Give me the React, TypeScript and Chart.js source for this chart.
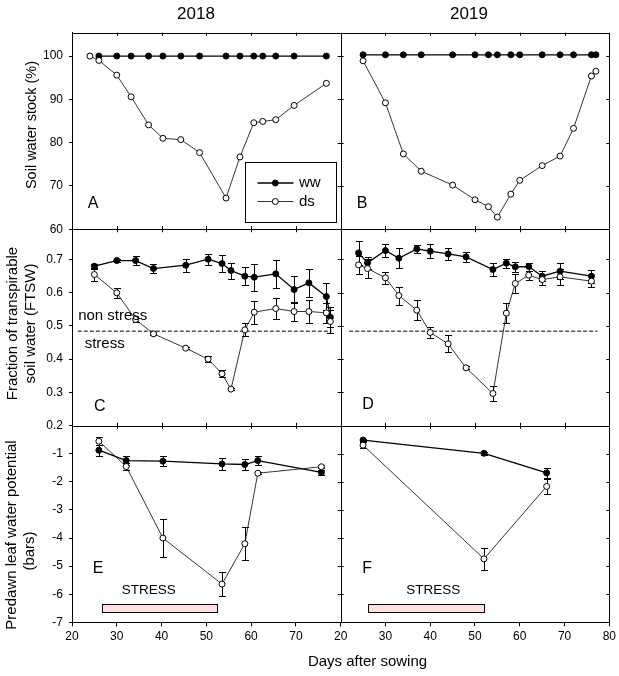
import { useEffect, useRef } from "react";
import { Chart, registerables } from "chart.js";

Chart.register(...registerables);

// ---------------- Data ----------------
// Axis ranges / tick steps
const DAY_RANGE = [20, 80];
const DAY_STEP = 10;
const STOCK_RANGE = [60, 105.4];
const STOCK_STEP = 10;
const FTSW_RANGE = [0.2, 0.79];
const FTSW_STEP = 0.1;
const PLWP_RANGE = [-7, 0];
const PLWP_STEP = 1;

// Panel A (2018) – soil water stock (%)
const A_WW_DAYS = [26, 30, 33.2, 37.1, 40.3, 44.3, 48.5, 54.4, 57.5, 60.6, 62.6, 65.5, 69.6, 76.8];
const A_WW_VALUES = [100, 100, 100, 100, 100, 100, 100, 100, 100, 100, 100, 100, 100, 100];
const A_DS_DAYS = [24, 26, 30, 33.2, 37.1, 40.3, 44.3, 48.5, 54.4, 57.5, 60.6, 62.6, 65.5, 69.6, 76.8];
const A_DS_VALUES = [100, 99, 95.6, 90.6, 84.1, 81.0, 80.7, 77.7, 67.2, 76.7, 84.6, 84.9, 85.3, 88.6, 93.7];

// Panel B (2019) – soil water stock (%)
const B_DAYS = [25, 30, 34, 38, 45, 50, 53, 55, 58, 60, 65, 69, 72, 76, 77];
const B_WW_VALUES = [100.3, 100.3, 100.3, 100.3, 100.3, 100.3, 100.3, 100.3, 100.3, 100.3, 100.3, 100.3, 100.3, 100.3, 100.3];
const B_DS_VALUES = [98.9, 89.2, 77.4, 73.4, 70.2, 66.8, 65.2, 62.8, 68.1, 71.3, 74.7, 76.9, 83.3, 95.4, 96.5];

// Panel C (2018) – FTSW
const C_DAYS = [25, 30, 34.2, 38.2, 45.4, 50.4, 53.5, 55.5, 58.6, 60.7, 65.5, 69.6, 72.9, 76.8, 77.7];
const C_WW_VALUES = [0.679, 0.696, 0.696, 0.672, 0.682, 0.7, 0.687, 0.666, 0.649, 0.646, 0.656, 0.609, 0.629, 0.588, 0.526];
const C_WW_ERR = [0.008, 0.005, 0.0125, 0.0135, 0.02, 0.017, 0.025, 0.024, 0.027, 0.04, 0.043, 0.04, 0.041, 0.04, 0.03];
const C_DS_VALUES = [0.654, 0.599, 0.519, 0.476, 0.433, 0.4, 0.356, 0.31, 0.488, 0.541, 0.552, 0.543, 0.543, 0.539, 0.513];
const C_DS_ERR = [0.019, 0.016, 0.006, 0.004, 0.004, 0.008, 0.01, 0.004, 0.02, 0.034, 0.031, 0.028, 0.034, 0.031, 0.035];

// Panel D (2019) – FTSW
const D_DAYS = [24, 26, 30, 33, 37, 40, 44, 48, 54, 57, 59, 62, 65, 69, 76];
const D_WW_VALUES = [0.719, 0.689, 0.726, 0.703, 0.731, 0.724, 0.716, 0.707, 0.669, 0.688, 0.677, 0.678, 0.649, 0.664, 0.649];
const D_WW_ERR = [0.036, 0.019, 0.019, 0.03, 0.012, 0.021, 0.017, 0.016, 0.019, 0.014, 0.015, 0.012, 0.015, 0.024, 0.02];
const D_DS_VALUES = [0.683, 0.672, 0.644, 0.591, 0.547, 0.48, 0.446, 0.374, 0.297, 0.538, 0.627, 0.652, 0.639, 0.647, 0.634];
const D_DS_ERR = [0.027, 0.028, 0.019, 0.027, 0.03, 0.018, 0.026, 0.005, 0.023, 0.03, 0.028, 0.013, 0.015, 0.025, 0.018];

// Panel E (2018) – predawn leaf water potential (bars)
const E_DAYS = [26, 32.1, 40.3, 53.5, 58.6, 61.5, 75.7];
const E_WW_VALUES = [-0.87, -1.24, -1.26, -1.36, -1.38, -1.24, -1.66];
const E_WW_ERR = [0.2, 0.15, 0.17, 0.21, 0.2, 0.15, 0.09];
const E_DS_VALUES = [-0.55, -1.45, -4.0, -5.64, -4.2, -1.69, -1.46];
const E_DS_ERR = [0.14, 0.11, 0.68, 0.42, 0.58, 0.04, 0.05];

// Panel F (2019) – predawn leaf water potential (bars)
const F_DAYS = [25, 52, 66];
const F_WW_VALUES = [-0.51, -0.98, -1.68];
const F_WW_ERR = [0.05, 0.05, 0.18];
const F_DS_VALUES = [-0.69, -4.74, -2.16];
const F_DS_ERR = [0.1, 0.39, 0.27];

// FTSW stress threshold (dashed line)
const FTSW_THRESHOLD = 0.484;
const THRESHOLD_DAYS_2018 = [21.3, 78];
const THRESHOLD_DAYS_2019 = [21.9, 77.3];

// Stress period bars (days) and their vertical extent (bars)
const STRESS_DAYS_2018 = [26.6, 52.4];
const STRESS_DAYS_2019 = [26.0, 52.0];
const STRESS_BAR_LEVELS = [-6.36, -6.64];

// Labels
const SERIES_LABELS = ["ww", "ds"];
const YEAR_LABELS = ["2018", "2019"];
const PANEL_LETTERS = ["A", "B", "C", "D", "E", "F"];

// ---------------- Styling helpers ----------------
const FONT = "'Liberation Sans', Arial, Helvetica, sans-serif";
const R = 3;

const pts = (xs: number[], ys: number[]) => xs.map((x, i) => ({ x, y: ys[i] }));

const wwStyle = {
  borderColor: "#000",
  backgroundColor: "#000",
  borderWidth: 1.3,
  pointRadius: R,
  pointHoverRadius: R,
  pointBackgroundColor: "#000",
  pointBorderColor: "#000",
  pointBorderWidth: 1,
  order: 2,
};
const dsStyle = {
  borderColor: "#000",
  backgroundColor: "#fff",
  borderWidth: 0.8,
  pointRadius: R,
  pointHoverRadius: R,
  pointBackgroundColor: "#fff",
  pointBorderColor: "#000",
  pointBorderWidth: 1,
  order: 1,
};

function series(label: string, xs: number[], ys: number[], err: number[] | null, xAxisID: string, yAxisID: string, style: any) {
  return { label, data: pts(xs, ys), err, xAxisID, yAxisID, tension: 0, fill: false, ...style };
}

function threshold(xs: number[], xAxisID: string) {
  return {
    label: "threshold",
    data: pts(xs, [FTSW_THRESHOLD, FTSW_THRESHOLD]),
    xAxisID,
    yAxisID: "y2",
    borderColor: "#000",
    borderWidth: 1,
    borderDash: [4, 2],
    pointRadius: 0,
    pointHoverRadius: 0,
    fill: false,
    order: 3,
  };
}

function axis(extra: any) {
  const base: any = {
    type: "linear",
    grid: { drawOnChartArea: false, drawTicks: true, tickLength: 3, color: "#000", lineWidth: 1 },
    border: { display: true, color: "#000", width: 1 },
    ticks: { color: "#000", font: { family: FONT, size: 12 }, autoSkip: false, includeBounds: false, maxRotation: 0 },
  };
  return {
    ...base,
    ...extra,
    grid: { ...base.grid, ...(extra.grid || {}) },
    ticks: { ...base.ticks, ...(extra.ticks || {}) },
  };
}

// ---------------- Plugins ----------------
const framePlugin = {
  id: "frame",
  afterDraw(chart: any) {
    const { ctx, chartArea: a, scales } = chart;
    const p = (v: number) => Math.round(v) + 0.5;
    ctx.save();
    ctx.strokeStyle = "#000";
    ctx.lineWidth = 1;
    ctx.beginPath();
    ctx.moveTo(a.left, p(a.top));
    ctx.lineTo(a.right + 0.5, p(a.top));
    ctx.moveTo(p(a.right), a.top);
    ctx.lineTo(p(a.right), a.bottom);
    const xd = scales.x2.left;
    ctx.moveTo(p(xd), a.top);
    ctx.lineTo(p(xd), a.bottom);
    for (const id of ["y1", "y2"]) {
      const yb = scales[id].bottom;
      ctx.moveTo(a.left, p(yb));
      ctx.lineTo(a.right, p(yb));
    }
    // small inner ticks
    for (const id of ["y1", "y2", "y3"]) {
      const s = scales[id];
      for (const t of s.ticks) {
        const y = p(s.getPixelForValue(t.value));
        ctx.moveTo(a.right, y);
        ctx.lineTo(a.right - 3, y);
        ctx.moveTo(xd - 3, y);
        ctx.lineTo(xd + 3, y);
      }
    }
    for (const id of ["x1", "x2"]) {
      const s = scales[id];
      for (const t of s.ticks) {
        if (t.value <= DAY_RANGE[0] || t.value >= DAY_RANGE[1]) continue;
        const x = p(s.getPixelForValue(t.value));
        ctx.moveTo(x, a.top);
        ctx.lineTo(x, a.top + 3);
        for (const yid of ["y1", "y2"]) {
          const yb = scales[yid].bottom;
          ctx.moveTo(x, yb - 3);
          ctx.lineTo(x, yb + 3);
        }
      }
    }
    ctx.stroke();
    ctx.restore();
  },
};

const errorBarPlugin = {
  id: "errorBars",
  beforeDatasetsDraw(chart: any) {
    const ctx = chart.ctx;
    ctx.save();
    ctx.strokeStyle = "#000";
    ctx.lineWidth = 1;
    chart.data.datasets.forEach((ds: any, i: number) => {
      if (!ds.err) return;
      const meta = chart.getDatasetMeta(i);
      const ys = chart.scales[ds.yAxisID];
      meta.data.forEach((el: any, j: number) => {
        const e = ds.err[j];
        if (!e) return;
        const v = ds.data[j].y;
        const x = Math.round(el.x) + 0.5;
        const t = Math.round(ys.getPixelForValue(v + e)) + 0.5;
        const b = Math.round(ys.getPixelForValue(v - e)) + 0.5;
        ctx.beginPath();
        ctx.moveTo(x, t);
        ctx.lineTo(x, b);
        ctx.moveTo(x - 3.5, t);
        ctx.lineTo(x + 3.5, t);
        ctx.moveTo(x - 3.5, b);
        ctx.lineTo(x + 3.5, b);
        ctx.stroke();
      });
    });
    ctx.restore();
  },
};

function text(ctx: any, s: string, x: number, y: number, size: number, rotate = false) {
  ctx.save();
  ctx.font = `${size}px ${FONT}`;
  ctx.fillStyle = "#000";
  ctx.textAlign = "center";
  ctx.textBaseline = "middle";
  ctx.translate(x, y);
  if (rotate) ctx.rotate(-Math.PI / 2);
  ctx.fillText(s, 0, 0);
  ctx.restore();
}

const annotationPlugin = {
  id: "annotations",
  beforeDatasetsDraw(chart: any) {
    const { ctx, scales } = chart;
    const y3 = scales.y3;
    const bars: [string, number[]][] = [
      ["x1", STRESS_DAYS_2018],
      ["x2", STRESS_DAYS_2019],
    ];
    ctx.save();
    for (const [xid, span] of bars) {
      const xs = scales[xid];
      const l = Math.round(xs.getPixelForValue(span[0])) + 0.5;
      const r = Math.round(xs.getPixelForValue(span[1])) + 0.5;
      const t = Math.round(y3.getPixelForValue(STRESS_BAR_LEVELS[0])) + 0.5;
      const b = Math.round(y3.getPixelForValue(STRESS_BAR_LEVELS[1])) + 0.5;
      ctx.fillStyle = "#fde0e0";
      ctx.fillRect(l, t, r - l, b - t);
      ctx.strokeStyle = "#000";
      ctx.lineWidth = 1;
      ctx.strokeRect(l, t, r - l, b - t);
    }
    ctx.restore();
  },
  afterDraw(chart: any) {
    const { ctx, scales } = chart;
    const at = (xid: string, yid: string, x: number, y: number) => [scales[xid].getPixelForValue(x), scales[yid].getPixelForValue(y)];

    // Page texts
    text(ctx, YEAR_LABELS[0], 196, 14, 17);
    text(ctx, YEAR_LABELS[1], 469, 14, 17);
    text(ctx, "Days after sowing", 367.5, 661.5, 15);
    text(ctx, "Soil water stock (%)", 31.5, 125, 14.5, true);
    text(ctx, "Fraction of transpirable", 13, 323.5, 15, true);
    text(ctx, "soil water (FTSW)", 30.5, 323.5, 15, true);
    text(ctx, "Predawn leaf water potential", 12, 535, 15, true);
    text(ctx, "(bars)", 30, 551, 15, true);

    // Panel letters
    const letterPos: [string, string, number, number][] = [
      ["x1", "y1", 24.7, 65.9],
      ["x2", "y1", 24.8, 65.9],
      ["x1", "y2", 26.2, 0.257],
      ["x2", "y2", 26.1, 0.264],
      ["x1", "y3", 25.8, -5.1],
      ["x2", "y3", 25.9, -5.1],
    ];
    letterPos.forEach(([xid, yid, x, y], i) => {
      const [px, py] = at(xid, yid, x, y);
      text(ctx, PANEL_LETTERS[i], px, py, 16);
    });

    // FTSW threshold labels
    {
      const [px, py] = at("x1", "y2", 29.1, 0.531);
      text(ctx, "non stress", px, py, 15);
      const [qx, qy] = at("x1", "y2", 27.3, 0.447);
      text(ctx, "stress", qx, qy, 15);
    }
    // STRESS labels
    {
      const [px, py] = at("x1", "y3", 37.15, -5.85);
      text(ctx, "STRESS", px, py, 13.5);
      const [qx, qy] = at("x2", "y3", 40.7, -5.85);
      text(ctx, "STRESS", qx, qy, 13.5);
    }

    // Legend box
    const box = { left: 245.5, top: 162.5, right: 336.5, bottom: 222.5 };
    ctx.save();
    ctx.fillStyle = "#fff";
    ctx.fillRect(box.left, box.top, box.right - box.left, box.bottom - box.top);
    ctx.strokeStyle = "#000";
    ctx.lineWidth = 1;
    ctx.strokeRect(box.left, box.top, box.right - box.left, box.bottom - box.top);
    const rows = [
      { y: 183, style: wwStyle },
      { y: 201.5, style: dsStyle },
    ];
    rows.forEach((row, i) => {
      ctx.beginPath();
      ctx.strokeStyle = "#000";
      ctx.lineWidth = row.style.borderWidth;
      ctx.moveTo(257.5, row.y);
      ctx.lineTo(293.5, row.y);
      ctx.stroke();
      ctx.beginPath();
      ctx.arc(275.3, row.y, R, 0, Math.PI * 2);
      ctx.fillStyle = row.style.pointBackgroundColor;
      ctx.fill();
      ctx.lineWidth = 1;
      ctx.stroke();
      ctx.font = `15px ${FONT}`;
      ctx.fillStyle = "#000";
      ctx.textAlign = "left";
      ctx.textBaseline = "middle";
      ctx.fillText(SERIES_LABELS[i], 299, row.y);
    });
    ctx.restore();
  },
};

// ---------------- Component ----------------
export default function App() {
  const canvasRef = useRef<HTMLCanvasElement | null>(null);

  useEffect(() => {
    const canvas = canvasRef.current;
    if (!canvas) return;

    const datasets: any[] = [
      series(SERIES_LABELS[0], A_WW_DAYS, A_WW_VALUES, null, "x1", "y1", wwStyle),
      series(SERIES_LABELS[1], A_DS_DAYS, A_DS_VALUES, null, "x1", "y1", dsStyle),
      series(SERIES_LABELS[0], B_DAYS, B_WW_VALUES, null, "x2", "y1", wwStyle),
      series(SERIES_LABELS[1], B_DAYS, B_DS_VALUES, null, "x2", "y1", dsStyle),
      series(SERIES_LABELS[0], C_DAYS, C_WW_VALUES, C_WW_ERR, "x1", "y2", wwStyle),
      series(SERIES_LABELS[1], C_DAYS, C_DS_VALUES, C_DS_ERR, "x1", "y2", dsStyle),
      series(SERIES_LABELS[0], D_DAYS, D_WW_VALUES, D_WW_ERR, "x2", "y2", wwStyle),
      series(SERIES_LABELS[1], D_DAYS, D_DS_VALUES, D_DS_ERR, "x2", "y2", dsStyle),
      series(SERIES_LABELS[0], E_DAYS, E_WW_VALUES, E_WW_ERR, "x1", "y3", wwStyle),
      series(SERIES_LABELS[1], E_DAYS, E_DS_VALUES, E_DS_ERR, "x1", "y3", dsStyle),
      series(SERIES_LABELS[0], F_DAYS, F_WW_VALUES, F_WW_ERR, "x2", "y3", wwStyle),
      series(SERIES_LABELS[1], F_DAYS, F_DS_VALUES, F_DS_ERR, "x2", "y3", dsStyle),
      threshold(THRESHOLD_DAYS_2018, "x1"),
      threshold(THRESHOLD_DAYS_2019, "x2"),
    ];

    const xAxis = (hideLast: boolean) =>
      axis({
        position: "bottom",
        stack: "days",
        stackWeight: 1,
        min: DAY_RANGE[0],
        max: DAY_RANGE[1],
        grid: { tickLength: 4 },
        ticks: {
          stepSize: DAY_STEP,
          padding: 3,
          callback: (v: number) => (hideLast && v === DAY_RANGE[1] ? "" : String(v)),
        },
        afterFit: (s: any) => {
          s.height = 24;
        },
      });

    const yAxis = (range: number[], step: number, weight: number, fmt: (v: number) => string) =>
      axis({
        position: "left",
        stack: "rows",
        stackWeight: 1,
        weight,
        min: range[0],
        max: range[1],
        ticks: { stepSize: step, padding: 6, callback: (v: number) => fmt(v) },
        afterFit: (s: any) => {
          s.width = 72;
        },
      });

    const chart = new Chart(canvas, {
      type: "line",
      data: { datasets },
      options: {
        responsive: false,
        animation: false,
        devicePixelRatio: 1,
        layout: { padding: { left: 0, top: 32.7, right: 7.3, bottom: 29.7 } },
        plugins: { legend: { display: false }, tooltip: { enabled: false }, title: { display: false } },
        events: [],
        scales: {
          x1: xAxis(true),
          x2: xAxis(false),
          y1: yAxis(STOCK_RANGE, STOCK_STEP, 3, (v) => String(v)),
          y2: yAxis(FTSW_RANGE, FTSW_STEP, 2, (v) => v.toFixed(1)),
          y3: yAxis(PLWP_RANGE, PLWP_STEP, 1, (v) => (v === PLWP_RANGE[1] ? "" : String(v))),
        },
      } as any,
      plugins: [errorBarPlugin, annotationPlugin, framePlugin],
    });

    return () => chart.destroy();
  }, []);

  return (
    <div style={{ position: "absolute", left: 0, top: 0, width: 619, height: 676, background: "#fff" }}>
      <canvas ref={canvasRef} width={619} height={676} style={{ display: "block", width: 619, height: 676 }} />
    </div>
  );
}
